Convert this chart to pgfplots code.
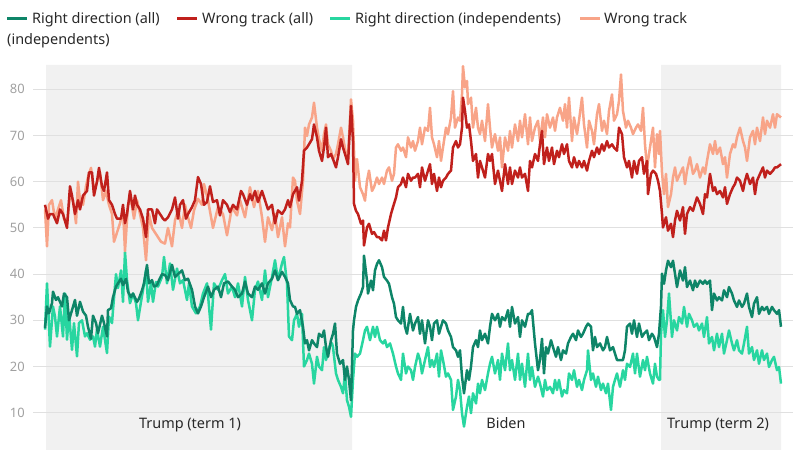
\documentclass[border=0pt]{standalone}
\usepackage{fontspec}
\setmainfont{Noto Sans}
\usepackage{pgfplots}
\pgfplotsset{compat=1.18}
\definecolor{rdall}{RGB}{14,133,104}
\definecolor{wtall}{RGB}{192,32,28}
\definecolor{rdind}{RGB}{40,214,160}
\definecolor{wtind}{RGB}{248,164,136}
\definecolor{shade}{RGB}{241,241,241}
\definecolor{txt}{RGB}{40,40,40}
\definecolor{ticktxt}{RGB}{160,160,160}
\begin{document}
\begin{tikzpicture}
\path (0bp,0bp) rectangle (800bp,450bp);
\begin{axis}[at={(33bp,0bp)}, anchor=south west, scale only axis,
  width=760bp, height=385bp, xmin=33, xmax=793, ymin=1.93, ymax=85.26,
  set layers, axis line style={draw=none}, xtick=\empty,
  ytick={10,20,...,80}, major tick length=0pt, ymajorgrids,
  grid style={draw=black!12, line width=0.9bp},
  yticklabel style={font=\fontsize{13}{14}\selectfont, text=ticktxt, inner sep=0pt, xshift=-8bp},
  /pgf/number format/assume math mode=true,
  every axis plot/.append style={line width=2.5bp, line join=round, mark=none},
  clip=false]
\addplot[fill=shade, draw=none, line width=0pt, on layer=axis background] coordinates {(46,1.93) (46,85.26) (352,85.26) (352,1.93) (46,1.93)};
\addplot[fill=shade, draw=none, line width=0pt, on layer=axis background] coordinates {(661,1.93) (661,85.26) (781,85.26) (781,1.93) (661,1.93)};
% Right direction (independents)
\addplot[rdind] coordinates {
(45,28) (47,38) (50,24.3) (53,33) (55,30.8) (57,26.5) (60,33) (63,26.5) (65,35.8) (67,25.8) (69,31.5) (72,23.6) (74,29.4) (77,22.2) (79,29.4) (82,30) (85,26.5) (87,27.2) (90,25.8) (93,26.5) (95,24.3) (97,28) (100,24.3) (103,28.6) (104,27.2) (107,22.9) (109,30.8) (112,29.4) (113,32.2) (116,40) (118,37) (121,40.8) (123,34) (125,44.8) (127,38.7) (130,33.7) (133,35.8) (136,33.7) (138,30) (141,34) (143,36.5) (146,40.8) (148,34) (151,38) (153,34) (156,38.3) (158,37.3) (162,39.4)
(164,43.7) (167,38) (170,42.3) (173,36.6) (177,41.2) (180,38) (183,38.7) (187,34.4) (189,38) (192,33) (196,31.5) (200,33) (203,35.8) (207,38) (211,28) (214,38) (218,36.6) (222,38.7) (225,40) (228,35.8) (232,37.3) (235,35) (238,38) (242,33) (245,39.4) (248,34.4) (252,30) (255,36.6) (258,38.4) (262,34.4) (265,40.8) (268,35) (272,39.4) (275,43) (278,38.7) (282,42.3) (284,43.7) (287,38) (289,26.5)
(292,25.7) (294,30) (297,31.4) (299,28.6) (302,31.4) (304,20) (307,21.4) (309,22.8) (312,20.6) (314,16.3) (317,22.1) (319,20) (322,19.2) (324,24.2) (326,21.4) (329,24.2) (332,25) (333,24.2) (336,18.5) (338,17.1) (341,15.6) (343,14.2) (345,18.5) (347,12.7) (349,11.3) (351,9.1) (353,17.1) (355,22.8) (357,22.1) (360,22.8) (363,25.7) (365,27.8) (367,28.6) (370,25.7) (373,28.6) (375,26.4) (377,28.6) (380,25.7) (383,25) (385,25.7) (387,24.2) (390,25) (393,22.8) (396,20) (398,18.5) (401,17.1) (403,22.8) (406,18.5) (408,20) (411,19.2) (413,17.1)
(415,19.9) (418,22.8) (420,21.4) (422,18.5) (425,21.4) (428,24.2) (430,19.9) (432,21.4) (434,19.9) (437,22.8) (439,17.8) (441,23.5) (443,21.4) (446,17.8) (448,18.5) (451,17.1) (453,10.6) (456,13.5) (458,17.1) (460,14.9) (462,9.9) (464,7) (467,11.3) (469,13.5) (471,9.9) (473,14.2) (476,12) (478,16.3) (480,14.2) (482,17.1) (485,14.9) (488,18.5) (490,20.6) (492,22.1) (495,18.5) (498,21.4) (500,17.1) (502,22.8) (505,19.2) (508,25) (510,19.2) (512,21.4) (515,17.1) (518,22.8) (520,17.1) (522,20.6) (525,15.6) (528,22.8) (530,17.1) (532,19.9) (535,15.6) (538,17.8) (540,16.3)
(543,13.5) (545,17.1) (547,14.9) (550,15.6) (553,14.2) (555,17.1) (557,14.9) (559,17.1) (562,13.5) (564,14.9) (567,14.2) (569,18.5) (572,17.1) (574,19.2) (577,15.6) (579,17.1) (582,14.9) (584,17.1) (587,19.2) (588,23.5) (591,17.1) (593,18.5) (596,15.6) (598,17.8) (601,14.9) (603,16.3) (606,14.2) (608,16.3) (611,10.6) (613,15.6) (615,17.1) (617,18.5) (620,15.6) (623,19.2) (625,17.1) (627,20.6) (630,19.9) (633,22.8) (635,18.5) (637,22.8) (640,17.8) (643,21.4) (645,19.2) (647,22.1) (650,18.5) (653,16.3) (655,20.6) (657,17.8) (659,17.1)
(660,17.1) (661,27.1) (663,32.2) (665,26.4) (667,30) (669,35.8) (672,26.4) (674,30) (677,27.8) (679,30.7) (682,29.3) (684,32.9) (687,28.6) (689,31.4) (692,30) (694,28.6) (697,29.3) (699,27.8) (702,29.3) (704,26.4) (707,30.7) (709,25) (712,26.4) (714,23.5) (717,27.1) (719,24.2) (722,27.1) (724,22.8) (727,25.7) (729,27.8) (732,25) (734,23.5) (737,25.7) (739,23.5) (742,22.8) (744,25) (747,28.6) (749,22.8) (752,24.2) (754,21.4) (757,23.5) (759,20.6) (762,23.5) (764,21.4) (767,22.8) (769,19.9) (772,21.4) (774,22.1) (777,19.2) (779,19.9) (781,16.3)
};
% Wrong track (independents)
\addplot[wtind] coordinates {
(45,54) (47,46) (49,55) (52,56) (55,52) (58,54) (61,56) (64,52) (67,51) (70,57) (73,56) (76,51) (78,60) (80,56) (83,55) (86,59) (88,61) (91,63) (94,58) (97,60) (100,62) (103,56) (106,58) (109,55) (112,53) (114,47) (117,49) (120,51) (123,54) (125,45) (128,55) (131,56) (134,52) (137,56) (140,53) (143,50) (146,43) (149,53) (152,50) (155,49) (158,48) (161,47)
(165,46.6) (168,50) (172,46) (175,51.6) (178,53.8) (182,50) (185,55) (188,52.3) (191,50) (194,53.8) (198,56.3) (202,55) (204,59.5) (208,56) (213,50) (218,54.5) (223,53) (227,48.4) (232,54.5) (237,52.7) (240,56) (245,52.3) (250,58.8) (254,54.5) (258,58) (262,52.3) (265,47) (268,52.3) (272,49.5) (275,53) (278,48) (282,52.3) (285,46) (288,51)
(290,50.1) (293,60.9) (295,60.2) (297,55.9) (300,53) (303,60.2) (305,71.7) (307,69.9) (309,72.4) (312,73.9) (314,77.1) (317,71.7) (319,69.2) (322,66.7) (324,70.3) (326,72.4) (328,68.1) (331,66.7) (333,64.9) (336,66) (338,68.1) (341,71.7) (343,69.6) (346,66) (348,65.3) (351,77.8) (353,73.2) (355,60.2) (357,64.9) (360,58.8) (363,57.3) (365,55.9) (367,60.2) (369,62.4) (372,58) (374,58.8) (377,60.9) (379,59.5) (382,60.9) (384,59.5) (387,62.4) (389,63.1) (392,60.2) (394,61.7) (396,67.4) (398,68.1) (401,66.7) (403,67.4) (406,65.3) (408,69.6) (411,67.4) (413,68.8)
(415,66.7) (418,68.8) (420,71.7) (422,68.1) (425,71.7) (428,71) (430,76) (432,69.6) (434,68.1) (437,65.3) (439,68.8) (441,64.5) (443,67.4) (446,71.7) (448,70.3) (451,73.9) (453,79.6) (455,71.7) (458,73.9) (460,73.2) (462,78.9) (463,85) (465,80.4) (467,81.8) (468,76.8) (471,78.2) (473,71.7) (476,76) (478,71.7) (480,70.3) (482,73.2) (485,68.8) (488,76.8) (490,71.7) (492,67.4) (495,70.3) (498,66.7) (500,69.6) (502,63.1) (505,69.6) (508,66.7) (510,71) (512,67.4) (515,72.4) (518,68.8) (520,73.2) (522,69.6) (525,74.6) (528,68.1) (530,73.9) (532,68.8) (535,71.7) (538,73.2) (540,68.8)
(543,73.9) (545,69.6) (547,74.6) (550,71.7) (553,73.9) (555,71) (557,73.9) (560,76) (563,73.2) (565,76.8) (567,71.7) (569,78.2) (572,68.8) (574,73.9) (577,70.3) (579,73.2) (582,78.2) (584,72.4) (587,67.4) (589,73.2) (592,71) (594,68.1) (597,74.6) (599,76.8) (602,71) (604,73.2) (607,70.3) (609,75.3) (612,78.9) (614,73.2) (617,74.6) (619,77.5) (621,83.2) (623,75.3) (626,71.7) (628,73.2) (631,71.7) (633,70.3) (636,71.7) (638,72.4) (641,71) (643,76) (645,68.1) (647,63.1) (650,67.4) (653,71.7) (655,63.1) (657,70.3) (659,66)
(660,71) (662,62) (664,57.3) (666,61.7) (668,54.5) (671,57.3) (673,60.9) (675,63.1) (677,60.2) (680,61.7) (683,63.1) (685,59.5) (687,62.4) (690,65.3) (693,61.7) (695,62.4) (697,63.8) (700,60.9) (703,63.1) (705,61.7) (707,64.5) (710,68.1) (713,66) (715,68.8) (717,66) (720,67.4) (723,63.8) (725,65.3) (727,60.9) (730,66) (733,68.1) (735,67.4) (737,69.6) (740,71.7) (743,68.8) (745,67.4) (747,64.5) (750,69.6) (753,71) (755,68.1) (757,71.7) (760,68.8) (763,73.9) (765,70.3) (767,73.2) (770,71.7) (773,74.6) (775,71.7) (777,74.6) (781,73.9)
};
% Right direction (all)
\addplot[rdall] coordinates {
(45,28.3) (47,33) (49,31.5) (52,33.7) (53,36.2) (56,34.4) (58,35) (62,33) (64,35.8) (67,35) (69,30) (72,32.2) (75,34.4) (77,31) (80,34) (83,31.9) (86,31) (88,28.6) (91,26) (93,31) (96,29.4) (98,27.2) (102,31) (104,29.4) (107,26.5) (108,32.2) (111,32.6) (113,35) (116,37.3) (118,38) (121,39) (123,37.6) (126,39) (128,36.2) (131,35) (133,35.8) (137,34) (139,34.7) (142,36.5) (144,38) (147,42) (149,38) (152,38.7) (154,37.3) (157,37.6) (159,38.7) (162,40)
(165,39.8) (168,38.7) (172,42) (175,39.4) (178,40) (182,40.8) (185,38.7) (188,39) (192,36.6) (195,33) (198,31.5) (201,33) (204,35) (208,37.3) (211,35) (214,36.6) (218,37.3) (221,35) (224,38) (228,38.4) (232,37.3) (235,36.6) (238,35) (242,35.8) (245,38.4) (248,35.8) (252,35) (255,37.3) (258,36.6) (262,38) (265,35.8) (268,38) (272,39) (275,40.8) (278,38.7) (282,40.5) (285,39.4) (288,38)
(290,34.4) (293,33) (295,32.9) (297,31.4) (300,32.2) (303,28.6) (305,25) (307,25.7) (309,23.5) (312,25.7) (314,25) (317,24.2) (319,27.1) (322,26.4) (324,27.8) (326,24.2) (328,22.1) (331,25.7) (333,27.1) (335,29.3) (337,22.8) (340,20.6) (343,21.4) (345,17.1) (347,20) (349,17.1) (351,12.7) (353,27.8) (354,30) (356,32.9) (358,34.3) (361,35.8) (363,37.2) (364,44) (367,38.6) (368,35.8) (371,38.6) (373,36.5) (375,40.8) (377,42.2) (379,43) (382,41.5) (384,39.4) (387,38.6) (389,37.9) (392,35) (394,33.6) (396,30.7) (398,30) (401,29.3) (403,32.9) (405,28.6) (407,27.1) (410,31.4) (413,27.8)
(415,29.3) (418,30.7) (420,27.1) (422,30) (425,25) (428,30) (430,28.6) (432,25.7) (434,29.3) (437,30) (439,27.1) (441,28.6) (443,30) (446,29.3) (448,27.8) (451,26.4) (453,24.2) (456,23.5) (458,22.1) (460,23.5) (462,17.8) (464,14.2) (467,19.2) (469,17.1) (471,20) (473,24.2) (476,25.7) (478,24.2) (480,27.8) (482,25.7) (485,27.1) (488,25) (490,28.6) (492,31.4) (495,30) (498,31.4) (500,28.6) (502,30.7) (505,30) (508,32.2) (510,28.6) (512,32.9) (515,29.3) (518,30.7) (520,26.4) (522,30) (525,28.6) (528,31.4) (530,31.4) (532,32.2) (535,25) (538,19.2) (540,21.5)
(542,26) (544,18.5) (546,24.2) (548,22.8) (551,25.7) (553,24.2) (556,22.1) (558,24.2) (561,21.4) (563,23.5) (566,22.8) (568,25) (571,26.4) (573,27.1) (576,25.7) (578,27.8) (581,26.4) (583,27.1) (586,28.6) (588,29.3) (591,28.6) (593,23.5) (595,26.4) (597,24.2) (600,25) (603,23.5) (605,24.2) (607,26.4) (610,23.5) (613,24.2) (615,22.8) (617,21.4) (620,21.4) (623,21.4) (625,23.5) (627,28.6) (630,29.3) (632,27.1) (634,30) (637,26.4) (639,29.3) (642,26.4) (644,27.1) (647,27.8) (649,25.7) (652,27.1) (654,26.4) (657,24.2) (659,27.1)
(661,33) (662,40.1) (664,37.9) (666,40.8) (668,42.9) (671,41.5) (673,42.9) (675,40.1) (677,37.2) (680,40.8) (683,38.6) (685,41.5) (687,37.2) (690,38.6) (693,36.5) (695,38.6) (697,37.2) (700,38.6) (703,37.9) (705,38.6) (707,37.9) (710,38.6) (712,32.2) (714,35.8) (717,34.3) (719,35) (722,34.3) (724,36.5) (727,35) (729,37.2) (732,35.8) (734,34.3) (737,32.9) (739,34.3) (742,32.9) (744,33.6) (747,35.8) (749,32.9) (752,30.7) (754,33.6) (757,35) (759,31.4) (762,32.9) (764,32.2) (767,32.9) (769,31.4) (772,32.9) (774,32.2) (777,31.4) (779,32.2) (781,28.6)
};
% Wrong track (all)
\addplot[wtall] coordinates {
(45,55) (48,52) (50,53) (53,53) (57,51) (60,54) (63,53) (67,50) (70,59) (72,57) (75,53) (78,56) (80,54) (83,57) (87,58) (89,62) (92,62) (94,57) (97,60) (99,63) (102,59) (104,58) (107,62) (109,56) (112,55) (115,53) (117,52) (121,52) (123,55) (125,51) (127,53) (130,58) (133,54) (135,57) (137,55) (140,54) (143,52) (146,48) (148,54) (152,54) (155,51) (157,54) (160,53) (163,52)
(165,51.6) (168,52.3) (172,54) (175,56.6) (178,52) (180,55) (183,56) (186,52) (188,53) (192,54.5) (195,56) (198,61) (201,59.5) (204,55) (207,55.6) (210,59) (213,55.6) (217,56) (220,52.7) (223,56) (227,55) (230,53.4) (233,55) (237,54) (241,58) (243,57.3) (247,55) (250,57.3) (252,56) (255,58) (258,55.6) (262,58) (265,56) (268,54) (272,55) (275,51) (278,53.8) (282,53) (285,54) (288,56)
(290,54.5) (293,57.3) (297,58.8) (299,55.9) (302,60.2) (304,66.7) (307,67.4) (309,68.1) (312,69.2) (314,72.4) (317,69.6) (319,66.7) (322,64.5) (324,67.4) (326,71.7) (328,65.3) (331,66) (333,64.9) (336,63.1) (338,65.3) (341,69.2) (343,67.4) (346,65.3) (348,63.8) (351,76.4) (353,68.8) (354,55.2) (356,53.7) (358,53) (361,50.9) (363,51.6) (364,46.2) (367,50.1) (369,50.9) (372,48.7) (374,49.1) (377,48) (379,48) (382,47.3) (384,49.4) (386,47.3) (388,50.1) (391,53) (393,54.5) (396,56.6) (398,58.8) (401,59.5) (403,60.9) (406,58.8) (408,61.7) (411,60.2) (413,60.9)
(415,60.9) (418,61.7) (420,58.8) (422,63.1) (425,60.2) (428,62.4) (430,63.8) (432,59.5) (434,61.7) (437,58) (439,60.9) (441,58.8) (443,60.2) (446,60.9) (448,61.7) (451,62.4) (453,67.4) (456,68.8) (458,67.4) (460,68.1) (462,71.7) (463,78.2) (465,75.3) (467,71.7) (469,72.4) (471,68.8) (473,64.5) (476,66) (478,60.9) (480,64.5) (482,63.1) (485,60.9) (488,66) (490,64.5) (492,66) (495,59.5) (498,62.4) (500,60.2) (502,58) (505,63.8) (508,59.5) (510,63.1) (512,59.5) (515,62.4) (518,60.9) (520,63.1) (522,60.9) (525,61.7) (528,58) (530,64.5) (532,63.1) (535,66) (538,64.5) (540,68.1)
(542,71) (544,63.8) (547,67.4) (549,64.5) (552,67.4) (554,63.8) (557,66.7) (559,65.3) (562,68.1) (564,66) (567,68.1) (569,64.5) (572,63.1) (574,65.3) (577,63.1) (579,64.5) (582,63.1) (584,64.5) (587,62.4) (589,64.5) (592,66.7) (594,65.3) (597,67.4) (599,66) (602,68.1) (604,66.7) (607,68.8) (609,67.4) (612,68.1) (614,67.4) (617,66.7) (619,71.7) (622,70.3) (624,65.3) (627,63.1) (629,64.5) (632,60.9) (634,64.5) (637,61.7) (639,64.5) (642,65.3) (644,61.7) (647,64.5) (648,57.3) (651,61.7) (653,62.4) (656,61.7) (658,60.2)
(660,58) (662,53) (663,50.1) (666,52.3) (668,49.4) (671,50.9) (673,48) (675,51.6) (677,53.7) (680,51.6) (683,54.5) (685,48.7) (687,53) (690,54.5) (693,53.7) (695,55.2) (697,56.6) (700,55.2) (703,53) (705,57.3) (707,56.6) (710,61.7) (713,58) (715,58.8) (717,57.3) (720,58) (723,56.6) (725,58.8) (727,55.2) (730,57.3) (733,58.8) (735,59.5) (737,60.9) (740,60.2) (743,58) (745,60.2) (747,61.7) (750,59.5) (753,60.9) (755,57.3) (757,60.2) (760,61.7) (763,63.1) (765,60.9) (767,62.4) (770,61.7) (773,62.4) (775,63.1) (777,63.1) (781,63.8)
};
\node[font=\fontsize{14.5}{16}\selectfont, text=txt, anchor=base] at (axis cs:190,6.5) {Trump (term 1)};
\node[font=\fontsize{14.5}{16}\selectfont, text=txt, anchor=base] at (axis cs:506,6.5) {Biden};
\node[font=\fontsize{14.5}{16}\selectfont, text=txt, anchor=base] at (axis cs:718,6.5) {Trump (term 2)};
\end{axis}
% legend
\begin{scope}[every node/.style={font=\fontsize{14.5}{16}\selectfont, text=txt, anchor=base west, inner sep=0pt}]
\draw[rdall, line width=3bp] (7bp,431bp) -- (27bp,431bp);
\node at (32bp,426bp) {Right direction (all)};
\draw[wtall, line width=3bp] (177bp,431bp) -- (197bp,431bp);
\node at (202bp,426bp) {Wrong track (all)};
\draw[rdind, line width=3bp] (330bp,431bp) -- (350bp,431bp);
\node at (355bp,426bp) {Right direction (independents)};
\draw[wtind, line width=3bp] (580bp,431bp) -- (600bp,431bp);
\node at (604bp,426bp) {Wrong track};
\node at (7bp,405bp) {(independents)};
\end{scope}
\end{tikzpicture}
\end{document}
